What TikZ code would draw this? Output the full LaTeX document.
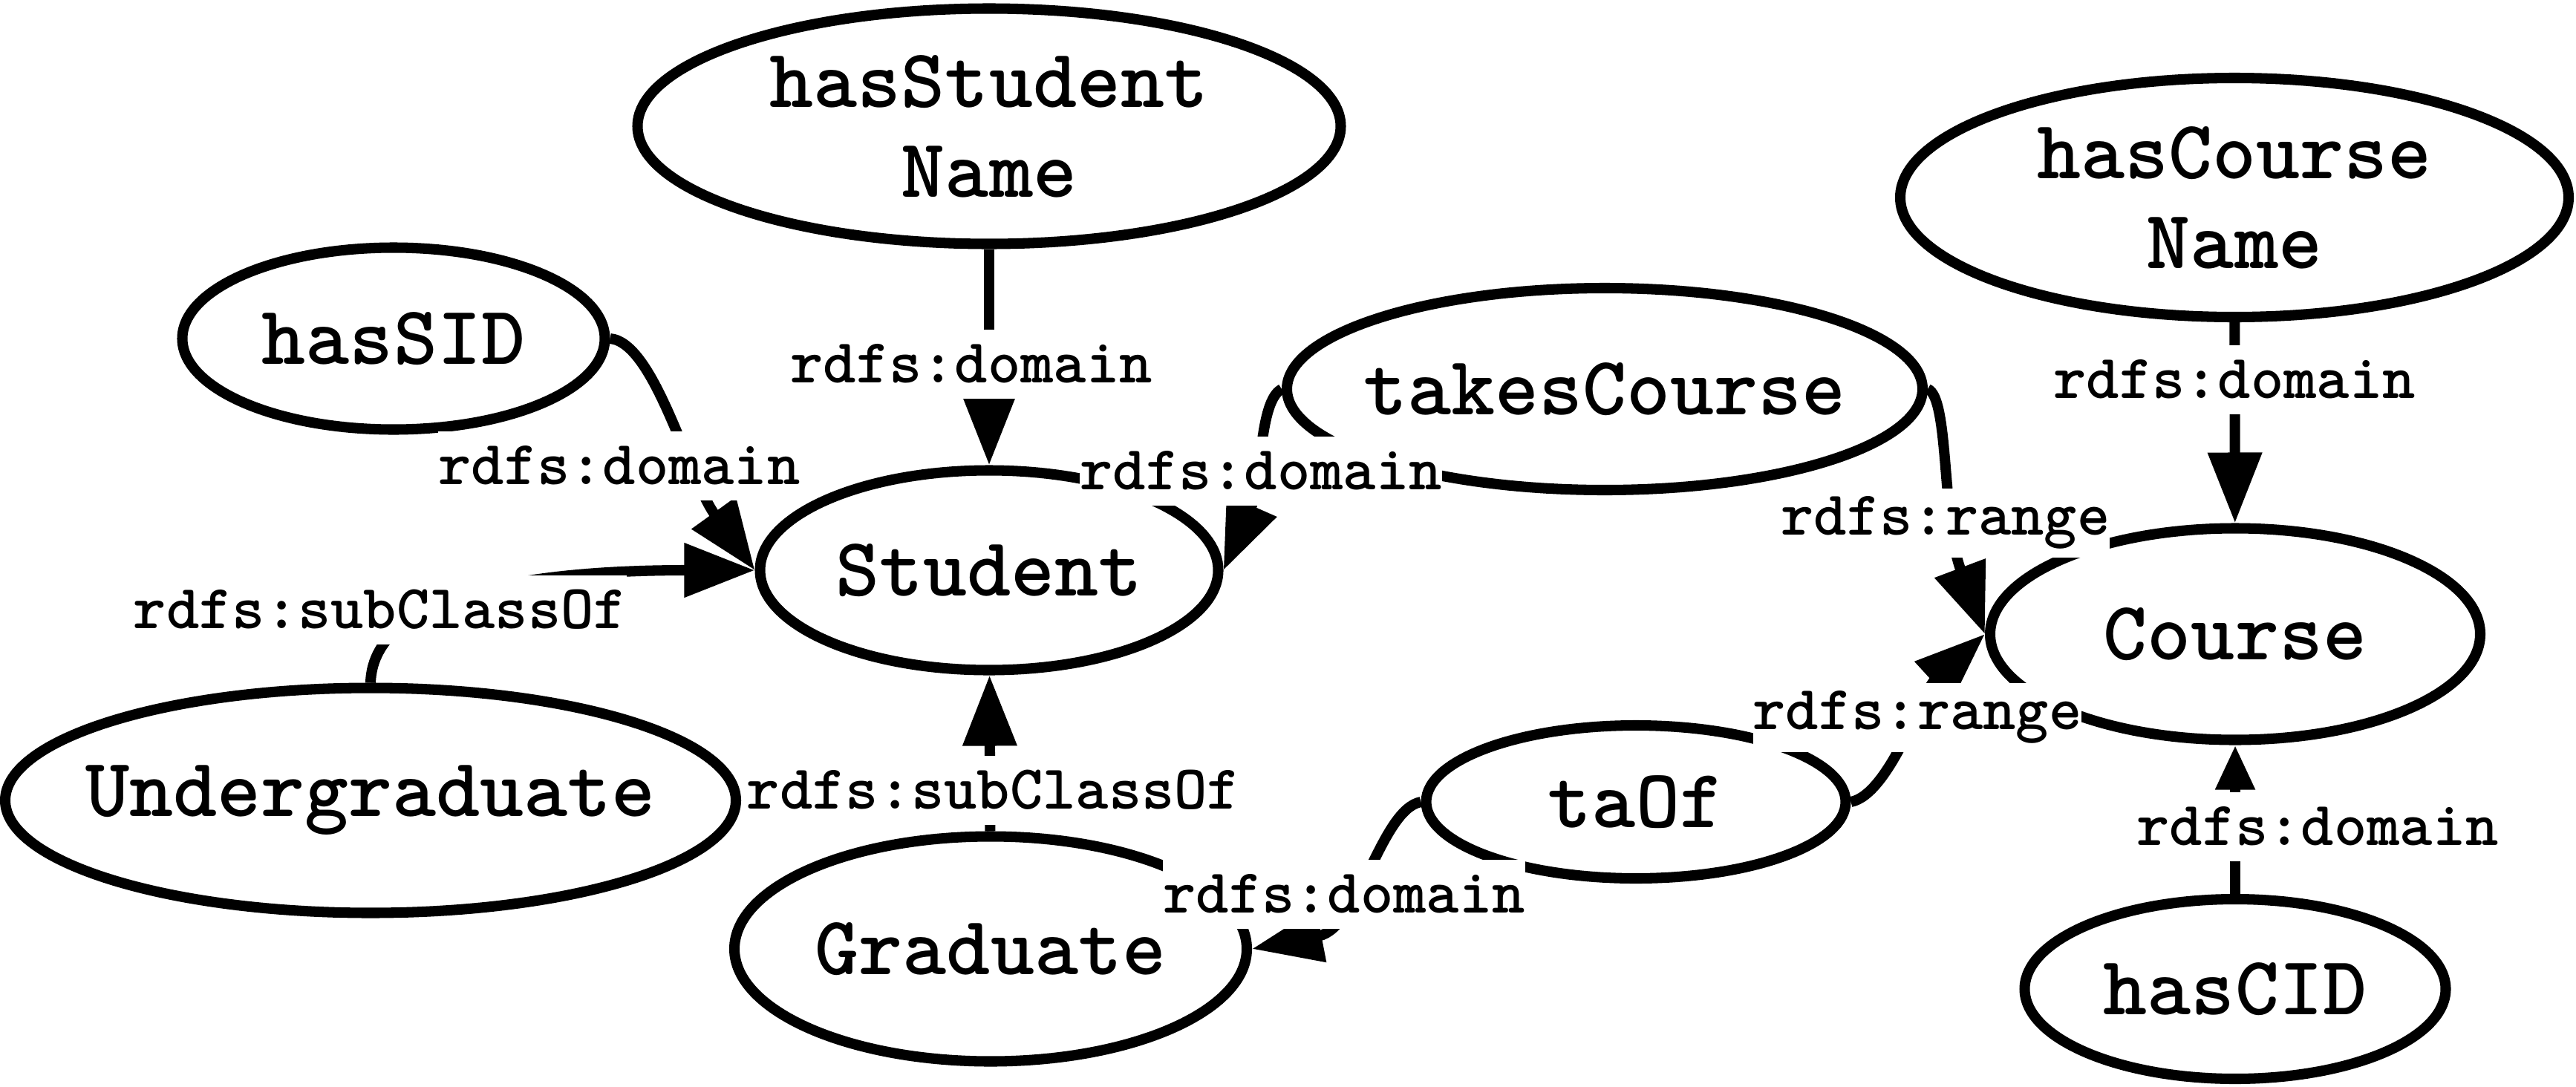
\documentclass[tikz,border=0pt]{standalone}
\usepackage{fontspec}
\usetikzlibrary{shapes.geometric,arrows.meta}
\newcommand{\nodefont}{\fontsize{32}{34.4}\selectfont\ttfamily\bfseries\addfontfeatures{FakeBold=1.5}}
\newcommand{\lblfont}{\fontsize{24}{26}\selectfont\ttfamily\bfseries\addfontfeatures{FakeBold=1.5}}
\begin{document}
\begin{tikzpicture}[
		line width=4pt,
		prop/.style={ellipse, draw, fill=white, inner xsep=-4mm, inner ysep=0pt, align=center, font=\nodefont},
		rel/.style={-{Triangle[length=9.5mm,width=7mm]}},
		lbl/.style={fill=white, inner sep=0pt, minimum height=9.3mm, font=\lblfont}
	]
		\useasboundingbox (0, 0) rectangle (34.69, -14.63);
		% classes and properties
		\node[prop, minimum width=9.47cm, minimum height=3.17cm] (hasStudentName) at (13.32, -1.70) {hasStudent\\Name};
		\node[prop, minimum width=5.69cm, minimum height=2.45cm] (hasSID) at (5.30, -4.56) {hasSID};
		\node[prop, minimum width=6.17cm, minimum height=2.69cm] (Student) at (13.32, -7.68) {Student};
		\node[prop, minimum width=9.84cm, minimum height=3.03cm] (Undergraduate) at (4.99, -10.78) {Undergraduate};
		\node[prop, minimum width=6.90cm, minimum height=3.03cm] (Graduate) at (13.34, -12.78) {Graduate};
		\node[prop, minimum width=8.56cm, minimum height=2.72cm] (takesCourse) at (21.61, -5.24) {takesCourse};
		\node[prop, minimum width=5.65cm, minimum height=2.06cm] (taOf) at (22.03, -10.80) {taOf};
		\node[prop, minimum width=9.00cm, minimum height=3.22cm] (hasCourseName) at (30.09, -2.66) {hasCourse\\Name};
		\node[prop, minimum width=6.60cm, minimum height=2.85cm] (Course) at (30.10, -8.54) {Course};
		\node[prop, minimum width=5.67cm, minimum height=2.42cm] (hasCID) at (30.10, -13.32) {hasCID};
		% edges
		\draw[rel] (hasStudentName) -- (Student);
		\draw[rel] (hasSID.east) .. controls +(0.6, -0.05) and +(-0.9, 1.25) .. (Student.west);
		\draw[rel] (Undergraduate.north) .. controls +(0.04, 1.3) and +(-2.67, 0) .. (Student.west);
		\draw[rel] (takesCourse.west) .. controls +(-0.31, -0.16) and +(0.52, 1.18) .. (Student.east);
		\draw[rel] (Graduate) -- (Student);
		\draw[rel] (taOf.west) .. controls +(-0.54, -0.10) and +(1.44, 0.28) .. (Graduate.east);
		\draw[rel] (takesCourse.east) .. controls +(0.29, -0.11) and +(-0.58, 1.54) .. (Course.west);
		\draw[rel] (taOf.east) .. controls +(0.52, 0.10) and +(-0.83, -0.76) .. (Course.west);
		\draw[rel] (hasCourseName) -- (Course);
		\draw[-{Triangle[length=6mm,width=5mm]}] (hasCID) -- (Course);
		% edge labels
		\node[lbl] (d1) at (13.08, -4.90) {rdfs:domain};
		\node[lbl] (d2) at (8.34, -6.27) {rdfs:domain};
		\node[lbl] (s1) at (5.12, -8.21) {rdfs:subClassOf};
		\node[lbl] (d3) at (16.98, -6.34) {rdfs:domain};
		\node[lbl] (s2) at (13.38, -10.64) {rdfs:subClassOf};
		\node[lbl] (d4) at (18.10, -12.04) {rdfs:domain};
		\node[lbl] (r1) at (26.20, -7.04) {rdfs:range};
		\node[lbl] (r2) at (25.82, -9.66) {rdfs:range};
		\node[lbl] (d5) at (30.09, -5.11) {rdfs:domain};
		\node[lbl] (d6) at (31.21, -11.13) {rdfs:domain};
	\end{tikzpicture}
\end{document}
